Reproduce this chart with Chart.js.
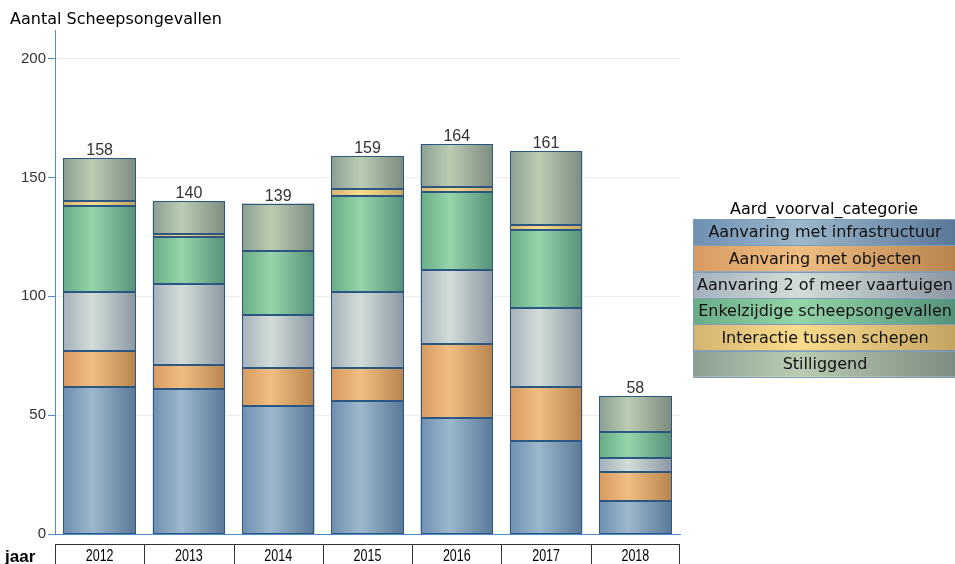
<!DOCTYPE html>
<html>
<head>
<meta charset="utf-8">
<script src="https://cdn.jsdelivr.net/npm/chart.js@4"></script>
<style>
  body { margin: 0; background: #fff; }
  #wrap { width: 955px; height: 564px; }
</style>
</head>
<body>
<div id="wrap"><canvas id="chart" width="955" height="564"></canvas></div>
<script>
'use strict';
// data
var years = ['2012', '2013', '2014', '2015', '2016', '2017', '2018'];
var infrastructuur = [62, 61, 54, 56, 49, 39, 14];
var objecten = [15, 10, 16, 14, 31, 23, 12];
var vaartuigen = [25, 34, 22, 32, 31, 33, 6];
var enkelzijdig = [36, 20, 27, 40, 33, 33, 11];
var interactie = [2, 1, 0, 3, 2, 2, 0];
var stilliggend = [18, 14, 20, 14, 18, 31, 15];
var yTicks = [0, 50, 100, 150, 200];

var seriesNames = ['Aanvaring met infrastructuur', 'Aanvaring met objecten', 'Aanvaring 2 of meer vaartuigen',
  'Enkelzijdige scheepsongevallen', 'Interactie tussen schepen', 'Stilliggend'];
var seriesData = [infrastructuur, objecten, vaartuigen, enkelzijdig, interactie, stilliggend];
// [edge, light, dark edge]
var seriesColors = [
  ['#6e8fb2', '#9db8cc', '#5a7898'],
  ['#d89a60', '#f0be82', '#b8844e'],
  ['#a4b0bc', '#d2ddd8', '#8c97a4'],
  ['#68ac86', '#96d4aa', '#56927a'],
  ['#d4b470', '#fadc8e', '#c4a462'],
  ['#8c9e92', '#bacdb2', '#7c8c80']
];

var BAR_PCT = 0.81;

function makeGradient(c, x0, x1, cols) {
  var g = c.createLinearGradient(x0, 0, x1, 0);
  g.addColorStop(0, cols[0]);
  g.addColorStop(0.4, cols[1]);
  g.addColorStop(1, cols[2]);
  return g;
}

function barFill(i) {
  return function(ctx) {
    var chart = ctx.chart;
    var xs = chart.scales.x;
    if (!chart.chartArea || !xs || ctx.dataIndex === undefined) return seriesColors[i][1];
    var cx = xs.getPixelForValue(ctx.dataIndex);
    var w = xs.width / years.length * BAR_PCT;
    return makeGradient(chart.ctx, cx - w / 2, cx + w / 2, seriesColors[i]);
  };
}

var datasets = [];
for (var i = 0; i < seriesNames.length; i++) {
  datasets.push({
    label: seriesNames[i],
    data: seriesData[i],
    backgroundColor: barFill(i),
    borderWidth: 0,
    inflateAmount: 0
  });
}

function totals() {
  var t = [];
  for (var j = 0; j < years.length; j++) {
    var s = 0;
    for (var k = 0; k < seriesData.length; k++) s += seriesData[k][j];
    t.push(s);
  }
  return t;
}

var extras = {
  id: 'extras',
  afterDatasetsDraw: function(chart) {
    // crisp outlines round every segment
    var c = chart.ctx;
    c.save();
    c.strokeStyle = '#2c5783';
    c.lineWidth = 1;
    for (var d = 0; d < chart.data.datasets.length; d++) {
      var meta = chart.getDatasetMeta(d);
      meta.data.forEach(function(el, idx) {
        if (!seriesData[d][idx]) return;
        var p = el.getProps(['x', 'y', 'base', 'width'], true);
        var x0 = Math.round(p.x - p.width / 2) + 0.5;
        var x1 = Math.round(p.x + p.width / 2) - 0.5;
        var y0 = Math.round(p.y) + 0.5;
        var y1 = Math.round(p.base) - 0.5;
        c.strokeRect(x0, y0, x1 - x0, y1 - y0);
      });
    }
    c.restore();
  },
  afterDraw: function(chart) {
    var c = chart.ctx;
    var xs = chart.scales.x;
    var ys = chart.scales.y;
    c.save();
    // title
    c.fillStyle = '#000';
    c.font = '16px "DejaVu Sans"';
    c.textAlign = 'left';
    c.textBaseline = 'alphabetic';
    c.fillText('Aantal Scheepsongevallen', 10, 24);

    // totals above the bars
    var t = totals();
    c.font = '16px "Liberation Sans"';
    c.fillStyle = '#333';
    c.textAlign = 'center';
    for (var j = 0; j < t.length; j++) {
      c.fillText(String(t[j]), xs.getPixelForValue(j), ys.getPixelForValue(t[j]) - 3);
    }

    // year boxes under the axis
    var cw = xs.width / years.length;
    c.strokeStyle = '#333';
    c.lineWidth = 1;
    c.beginPath();
    c.moveTo(xs.left, 544.5);
    c.lineTo(xs.right, 544.5);
    for (var b = 0; b <= years.length; b++) {
      var bx = Math.round(xs.left + b * cw) + 0.5;
      if (b === years.length) bx = Math.round(xs.right) - 0.5;
      c.moveTo(bx, 544.5);
      c.lineTo(bx, 564);
    }
    c.stroke();
    c.fillStyle = '#000';
    c.font = '16px "Liberation Sans"';
    for (var y = 0; y < years.length; y++) {
      c.save();
      c.translate(xs.getPixelForValue(y), 561);
      c.scale(0.78, 1);
      c.fillText(years[y], 0, 0);
      c.restore();
    }
    c.font = 'bold 17px "Liberation Sans"';
    c.textAlign = 'left';
    c.fillText('jaar', 5, 562);

    // legend
    var lx = 693, lw = 262, ly = 219, lh = 26.3;
    c.font = '16px "DejaVu Sans"';
    c.fillStyle = '#000';
    c.textAlign = 'center';
    c.fillText('Aard_voorval_categorie', lx + lw / 2, 214);
    for (var r = 0; r < seriesNames.length; r++) {
      var ry = ly + r * lh;
      c.fillStyle = makeGradient(c, lx, lx + lw, seriesColors[r]);
      c.fillRect(lx, ry, lw, lh);
      c.strokeStyle = '#7f9cb8';
      c.strokeRect(lx + 0.5, Math.round(ry) + 0.5, lw, Math.round(lh));
      c.fillStyle = '#111';
      c.textBaseline = 'middle';
      c.fillText(seriesNames[r], lx + lw / 2 + 1, ry + lh / 2 + 1);
    }
    c.restore();
  }
};

var ctx = document.getElementById('chart').getContext('2d');
new Chart(ctx, {
  type: 'bar',
  data: { labels: years, datasets: datasets },
  options: {
    responsive: false,
    animation: false,
    layout: { padding: { top: 30, right: 275, bottom: 0, left: 0 } },
    plugins: { legend: { display: false }, tooltip: { enabled: false } },
    datasets: { bar: { categoryPercentage: 1, barPercentage: BAR_PCT } },
    scales: {
      x: {
        stacked: true,
        grid: { display: false, drawTicks: false },
        border: { display: true, color: '#4d8ccc', width: 1 },
        ticks: { display: false },
        afterFit: function(scale) { scale.height = 30; }
      },
      y: {
        stacked: true,
        min: 0,
        max: 212,
        afterBuildTicks: function(scale) {
          scale.ticks = yTicks.map(function(v) { return { value: v }; });
        },
        afterFit: function(scale) { scale.width = 55; },
        grid: { color: '#ececf0', tickColor: '#5b8fc7', tickLength: 7 },
        border: { display: true, color: '#4d8ccc', width: 1 },
        ticks: {
          padding: 2,
          color: '#333',
          font: { family: 'Liberation Sans', size: 15 }
        }
      }
    }
  },
  plugins: [extras]
});
</script>
</body>
</html>
